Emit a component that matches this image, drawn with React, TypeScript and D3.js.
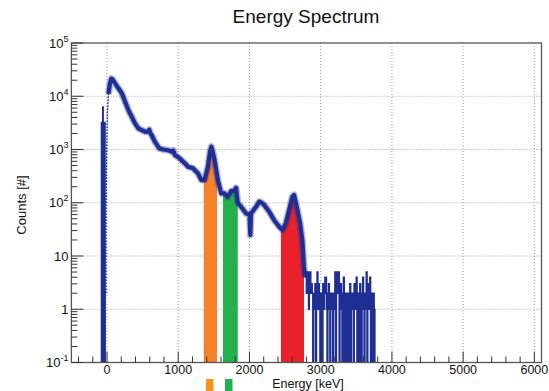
import React from 'react';
import * as d3 from 'd3';

const title = 'Energy Spectrum';
const xLabel = 'Energy [keV]';
const yLabel = 'Counts [#]';
const xTickValues = [0, 1000, 2000, 3000, 4000, 5000, 6000];
const yDecades = [-1, 0, 1, 2, 3, 4, 5];

// narrow spike just below 0 keV [keV, counts]
const spike: [number, number][] = [
  [-78, 0], [-78, 3200], [-60, 3200], [-60, 6300], [-54, 6300], [-54, 3200],
  [-28, 3200], [-28, 2], [-15, 2],
];

// spectrum readings [keV, counts] up to the sparse tail
const spectrum: [number, number][] = [
  [-15, 2], [-15, 40], [-5, 900], [5, 5000],
  [20, 11000], [40, 17000], [60, 21500], [75, 21000], [114, 17500],
  [160, 14100], [208, 11400], [254, 7900], [300, 5500], [347, 4130],
  [393, 3100], [440, 2500], [487, 2320], [533, 2160], [570, 2150],
  [593, 2350], [610, 2000], [626, 1870], [672, 1400], [733, 1050],
  [790, 1000], [836, 980], [880, 950], [906, 910], [930, 960], [952, 790],
  [1021, 684], [1067, 590], [1100, 540], [1137, 475], [1207, 444],
  [1240, 400], [1277, 357], [1324, 267], [1370, 267], [1416, 475],
  [1445, 900], [1464, 1130], [1485, 900], [1510, 635], [1556, 267],
  [1603, 150], [1649, 150], [1695, 130], [1743, 165], [1790, 170],
  [1812, 190], [1835, 100], [1882, 84], [1952, 63], [2000, 60], [2012, 25],
  [2022, 63], [2092, 84], [2138, 105], [2170, 100], [2207, 91], [2277, 68],
  [2347, 47], [2417, 35.5], [2463, 30.7], [2510, 41], [2557, 73],
  [2602, 130], [2626, 140], [2664, 84], [2710, 42], [2742, 20],
  [2765, 6.3], [2780, 4],
];

// sparse tail, 10 keV bins starting at 2780 keV
const tailStart = 2780;
const tailBin = 10;
const tailCounts = [
  4, 5, 2, 5, 4, 1, 5, 5, 2, 3,
  2, 0, 2, 1, 3, 0, 2, 5, 1, 3,
  2, 0, 1, 2, 0, 3, 1, 2, 4, 4,
  1, 0, 2, 3, 1, 0, 2, 1, 2, 0,
  2, 1, 5, 0, 5, 5, 2, 5, 0, 2,
  3, 1, 0, 2, 4, 0, 1, 2, 0, 1,
  2, 0, 1, 3, 0, 2, 1, 2, 0, 3,
  1, 2, 4, 0, 1, 2, 0, 3, 1, 0,
  2, 4, 1, 0, 2, 1, 5, 0, 3, 1,
  2, 4, 0, 1, 2, 0, 2, 1, 0,
];

// highlighted energy windows [from, to] keV
const windows: [number, number][] = [
  [1358, 1545],
  [1628, 1836],
  [2442, 2766],
];
const windowColors = ['#f5822a', '#22b14c', '#e8212a'];

const W = 549;
const H = 391;
const m = { left: 71.4, right: 541.5, top: 43, bottom: 362.5 };
const font = '"Liberation Sans", Arial, Helvetica, sans-serif';
const blue = '#1f2e93';

export default function App() {
  const x = d3.scaleLinear().domain([-500, 6100]).range([m.left, m.right]);
  const y = d3.scaleLog().domain([0.1, 1e5]).range([m.bottom, m.top]);
  const yv = (v: number) => (v <= 0.1 ? m.bottom + 2 : y(v));

  const tail: [number, number][] = [];
  tailCounts.forEach((c, i) => {
    tail.push([tailStart + i * tailBin, c]);
  });
  tail.push([tailStart + tailCounts.length * tailBin, 0]);

  const line = d3
    .line<[number, number]>()
    .x((d) => x(d[0]))
    .y((d) => yv(d[1]));
  const stepLine = d3
    .line<[number, number]>()
    .x((d) => x(d[0]))
    .y((d) => yv(d[1]))
    .curve(d3.curveStepAfter);
  const area = d3
    .area<[number, number]>()
    .x((d) => x(d[0]))
    .y0(m.bottom)
    .y1((d) => yv(d[1]));

  const thick = spectrum.filter((d) => d[0] >= 20);

  const minorX = d3.range(-400, 6100, 200).filter((v) => v % 1000 !== 0);
  const minorY: number[] = [];
  for (let e = -1; e < 5; e++) {
    for (let k = 2; k <= 9; k++) minorY.push(k * Math.pow(10, e));
  }

  const yLab = (e: number) => {
    if (e === 0) return <tspan>1</tspan>;
    if (e === 1) return <tspan>10</tspan>;
    return (
      <>
        <tspan>10</tspan>
        <tspan dy={-6} fontSize={9}>
          {e}
        </tspan>
      </>
    );
  };

  return (
    <svg
      width={W}
      height={H}
      style={{ position: 'absolute', left: 0, top: 0, background: '#fff' }}
      fontFamily={font}
    >
      <defs>
        <clipPath id="frame">
          <rect x={m.left} y={m.top} width={m.right - m.left} height={m.bottom - m.top} />
        </clipPath>
        {windows.map((w, i) => (
          <clipPath id={`win${i}`} key={i}>
            <rect x={x(w[0])} y={m.top} width={x(w[1]) - x(w[0])} height={m.bottom - m.top} />
          </clipPath>
        ))}
      </defs>

      <text x={306} y={23} textAnchor="middle" fontSize={19} fill="#111">
        {title}
      </text>

      {/* grid */}
      <g stroke="#9a9a9a" strokeWidth={1} strokeDasharray="1,2">
        {xTickValues.map((v) => (
          <line key={v} x1={x(v)} x2={x(v)} y1={m.top} y2={m.bottom} />
        ))}
        {yDecades.slice(1, -1).map((e) => (
          <line key={e} x1={m.left} x2={m.right} y1={y(Math.pow(10, e))} y2={y(Math.pow(10, e))} />
        ))}
      </g>

      {/* highlighted windows */}
      {windows.map((w, i) => (
        <path key={i} d={area(spectrum) || ''} fill={windowColors[i]} clipPath={`url(#win${i})`} />
      ))}

      <g clipPath="url(#frame)">
        <path d={area(spike) || ''} fill={blue} />
        <path d={line(spike) || ''} fill="none" stroke={blue} strokeWidth={1.5} />
        <path d={line(spectrum) || ''} fill="none" stroke={blue} strokeWidth={1.3} strokeDasharray="2,1" />
        <path
          d={line(thick) || ''}
          fill="none"
          stroke={blue}
          strokeOpacity={0.35}
          strokeWidth={7}
          strokeLinejoin="round"
        />
        <path
          d={line(thick) || ''}
          fill="none"
          stroke={blue}
          strokeWidth={4.2}
          strokeLinejoin="round"
        />
        <path d={stepLine(tail) || ''} fill="none" stroke={blue} strokeWidth={1.6} />
      </g>

      {/* frame */}
      <rect
        x={m.left}
        y={m.top}
        width={m.right - m.left}
        height={m.bottom - m.top}
        fill="none"
        stroke="#555"
        strokeWidth={1.3}
      />

      {/* ticks */}
      <g stroke="#333" strokeWidth={1}>
        {xTickValues.map((v) => (
          <line key={v} x1={x(v)} x2={x(v)} y1={m.bottom} y2={m.bottom - 11} />
        ))}
        {minorX.map((v) => (
          <line key={v} x1={x(v)} x2={x(v)} y1={m.bottom} y2={m.bottom - 6} />
        ))}
        {yDecades.map((e) => (
          <line key={e} x1={m.left} x2={m.left + 12} y1={y(Math.pow(10, e))} y2={y(Math.pow(10, e))} />
        ))}
        {minorY.map((v) => (
          <line key={v} x1={m.left} x2={m.left + 6} y1={y(v)} y2={y(v)} />
        ))}
      </g>

      <g fontSize={12.5} fill="#111" textAnchor="middle">
        {xTickValues.map((v) => (
          <text key={v} x={x(v)} y={373.5}>
            {v}
          </text>
        ))}
      </g>
      <g fontSize={13} fill="#111" textAnchor="end">
        {yDecades.map((e) => (
          <text key={e} x={68.5} y={y(Math.pow(10, e)) + 4.5}>
            {yLab(e)}
          </text>
        ))}
      </g>

      <text x={308} y={388} textAnchor="middle" fontSize={12.5} fill="#111">
        {xLabel}
      </text>
      <text
        transform="translate(26,205) rotate(-90)"
        textAnchor="middle"
        fontSize={13}
        fill="#111"
      >
        {yLabel}
      </text>

      {/* markers below the axis */}
      <rect x={206} y={379} width={7.5} height={12} fill="#f7941d" />
      <rect x={225} y={379} width={7.5} height={12} fill="#1fb14c" />
    </svg>
  );
}
